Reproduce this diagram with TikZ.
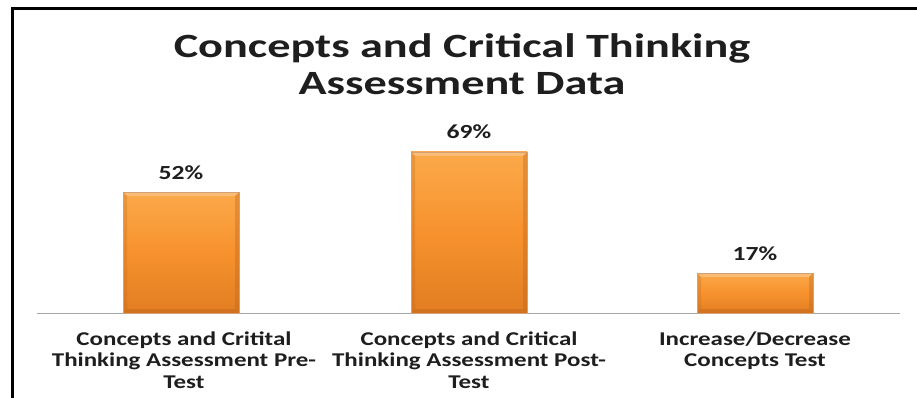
\documentclass[tikz,border=0pt]{standalone}
\usepackage{fontspec}
\setmainfont{Carlito}
\newfontfamily\titlefont[FakeStretch=1.36]{Carlito}
\newfontfamily\labfont[FakeStretch=1.28]{Carlito}
\usetikzlibrary{positioning}
\definecolor{barmid}{HTML}{F7922E}
\definecolor{bartop}{HTML}{FBA94A}
\definecolor{barbot}{HTML}{E27D22}
\definecolor{baredge}{HTML}{B8631C}
\definecolor{txt}{HTML}{1E1E1E}
\tikzset{
  x=1pt, y=-1pt,
  frame/.style={line width=3pt, black},
  axisline/.style={draw=black!35, line width=1pt},
  titletext/.style={font=\titlefont\fontsize{34}{37}\selectfont\bfseries, text=txt, align=center},
  valtext/.style={font=\labfont\fontsize{20}{22}\selectfont\bfseries, text=txt, anchor=base},
  cattext/.style={font=\labfont\fontsize{19.5}{21.5}\selectfont\bfseries, text=txt, align=center},
}
\newcommand{\drawbar}[4]{% name, left x, right x, top y
  \shade[top color=bartop, bottom color=barbot, middle color=barmid] (#2,#4) rectangle (#3,313);
  \fill[bartop!70!white, opacity=.8] (#2,#4) -- (#3,#4) -- (#3-4,#4+4) -- (#2+4,#4+4) -- cycle;
  \fill[baredge, opacity=.35] (#3,#4) -- (#3,313) -- (#3-4,309) -- (#3-4,#4+4) -- cycle;
  \fill[baredge, opacity=.25] (#2,#4) -- (#2,313) -- (#2+4,309) -- (#2+4,#4+4) -- cycle;
  \fill[baredge, opacity=.4] (#2,313) -- (#3,313) -- (#3-4,309) -- (#2+4,309) -- cycle;
  \draw[baredge!60, line width=0.4pt] (#2,#4) rectangle (#3,313);
  \coordinate (#1) at ({(#2+#3)/2},#4-13);
}
\begin{document}
\begin{tikzpicture}
\useasboundingbox (0,0) rectangle (917,398);
\fill[white] (0,0) rectangle (917,398);
% frame
\draw[frame] (12.5,398) -- (12.5,9) -- (917,9);
% title
\node[titletext] (title) at (462,64) {Concepts and Critical Thinking\\Assessment Data};
% axis
\coordinate (axl) at (37,313);
\coordinate (axr) at (900,313);
\draw[axisline] (axl) -- (axr);
% bars
\drawbar{b1}{123}{239}{192}
\drawbar{b2}{411}{527}{152}
\drawbar{b3}{697}{813}{273}
% values
\node[valtext] (v1) at (b1) {52\%};
\node[valtext] (v2) at (b2) {69\%};
\node[valtext] (v3) at (b3) {17\%};
% categories
\node[cattext, anchor=north] (c1) at (184,328) {Concepts and Critital\\Thinking Assessment Pre-\\Test};
\node[cattext, anchor=north] (c2) at (469,328) {Concepts and Critical\\Thinking Assessment Post-\\Test};
\node[cattext, anchor=north] (c3) at (755,328) {Increase/Decrease\\Concepts Test};
\end{tikzpicture}
\end{document}
